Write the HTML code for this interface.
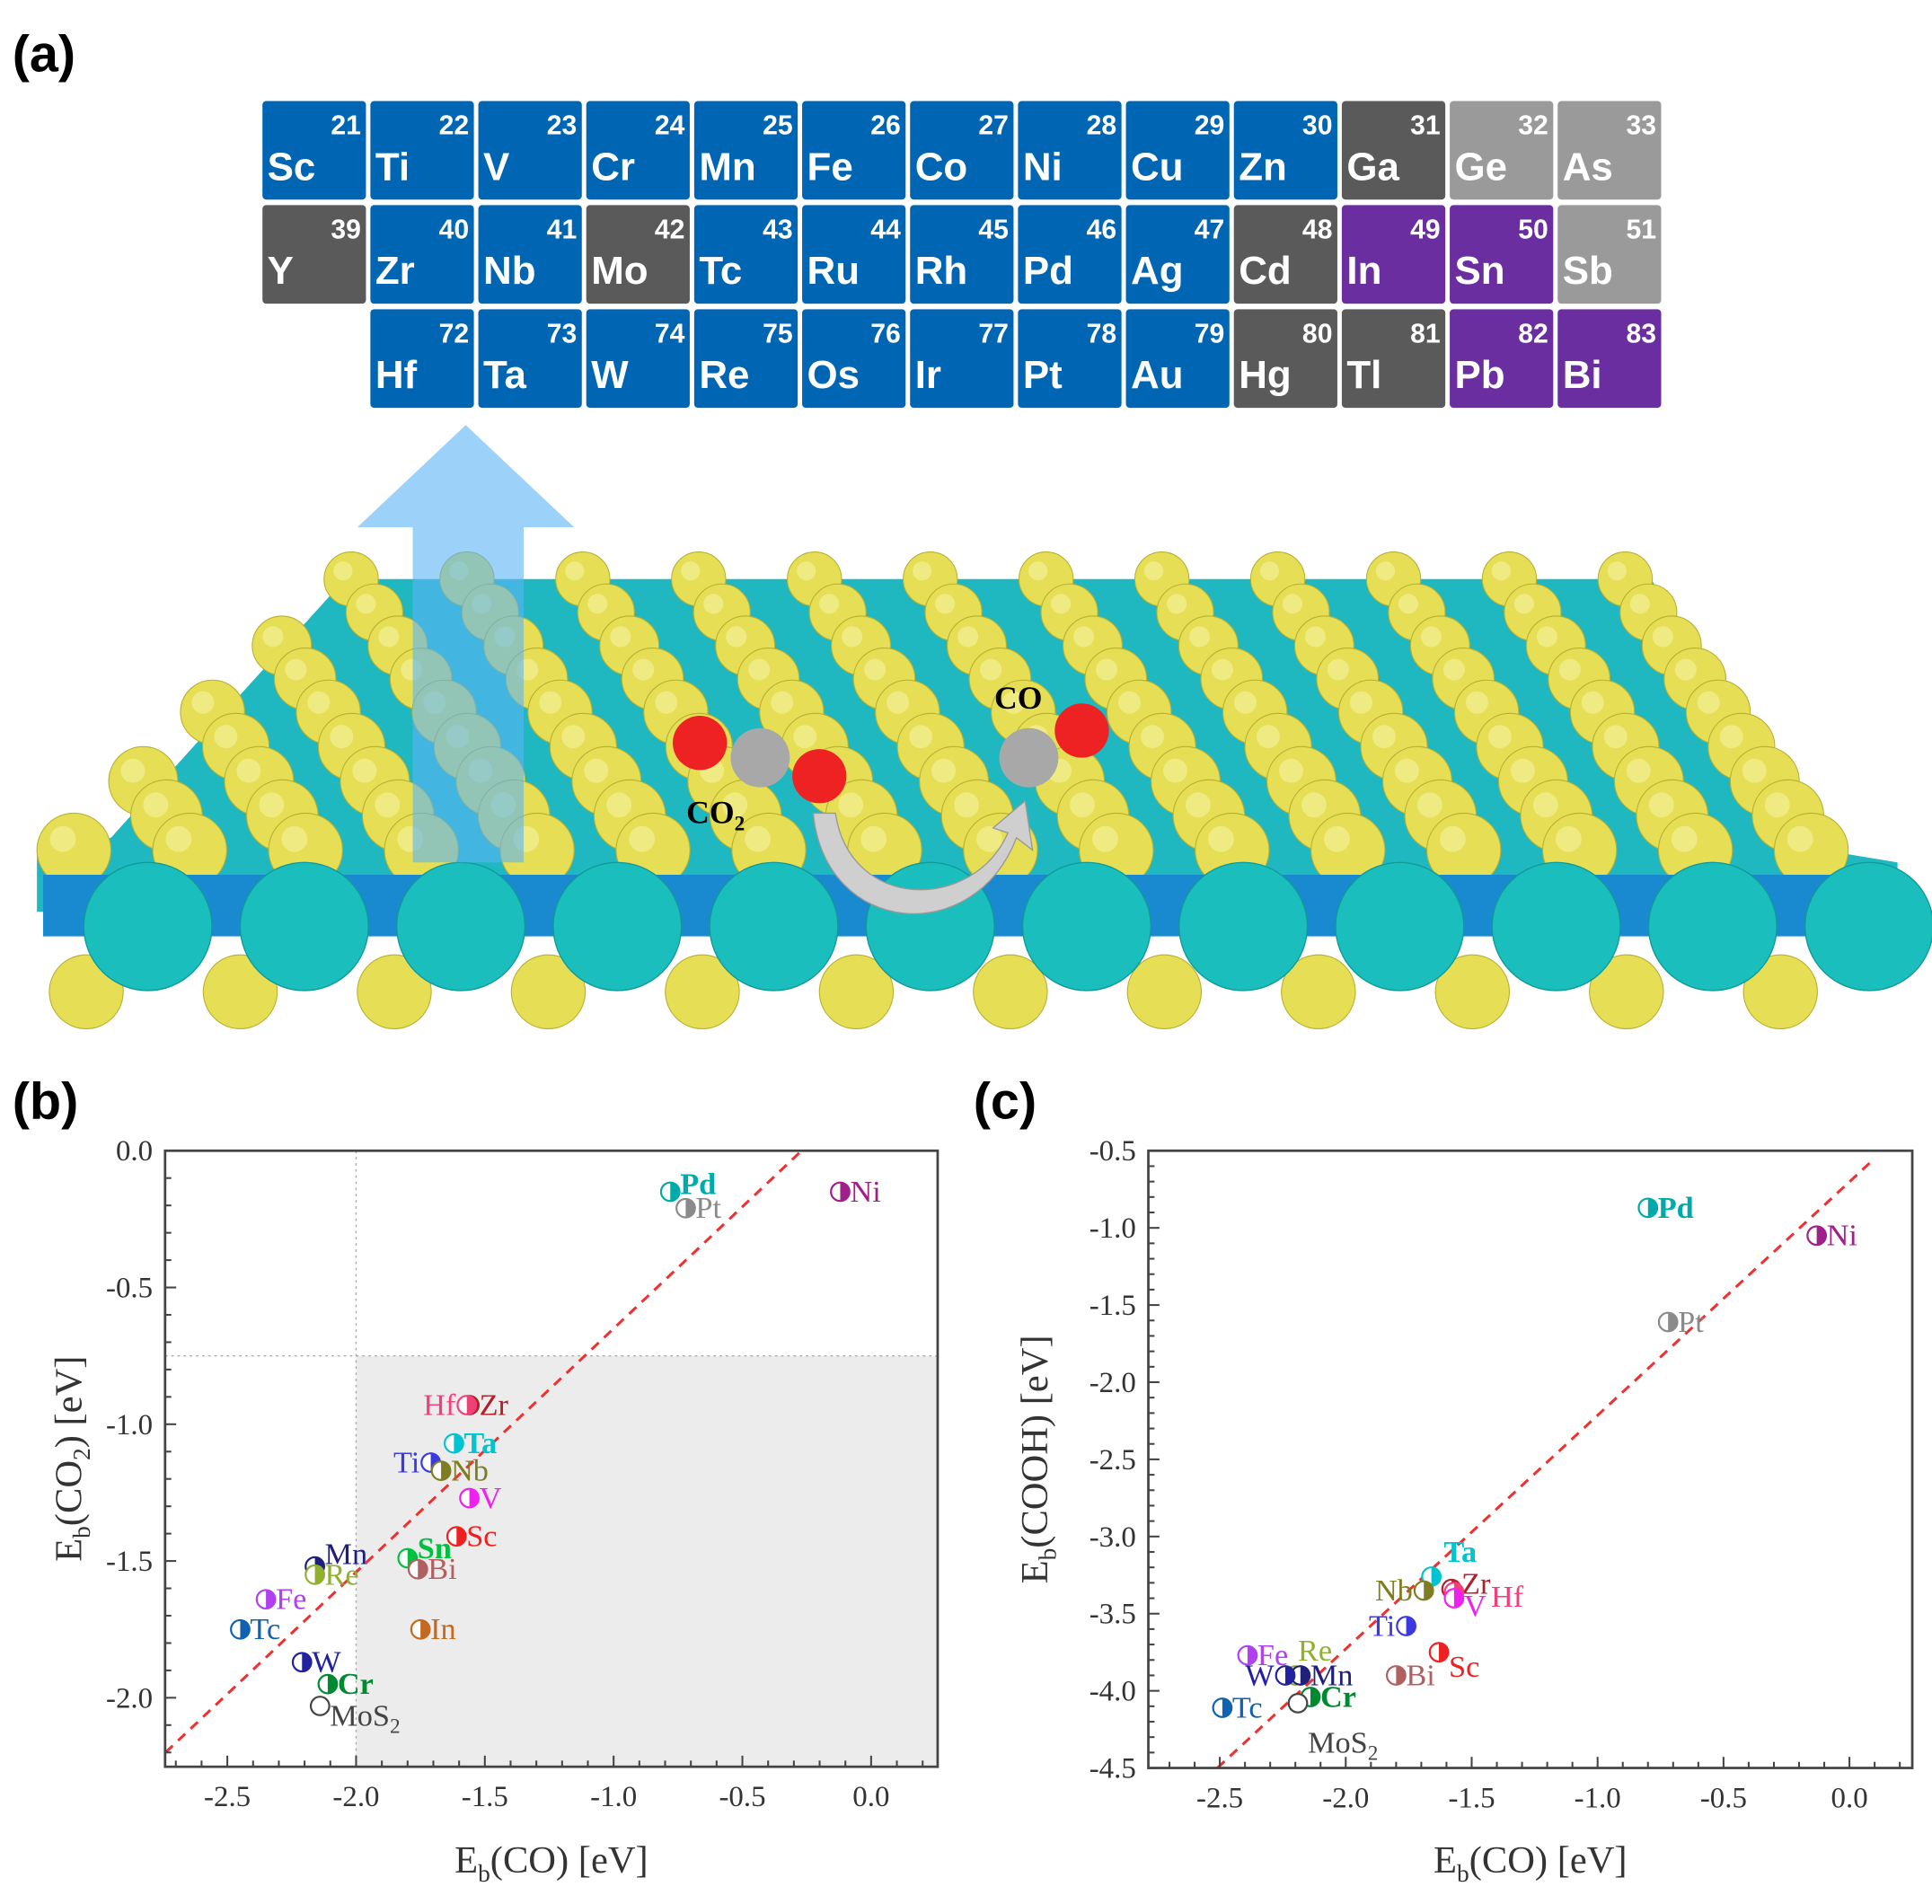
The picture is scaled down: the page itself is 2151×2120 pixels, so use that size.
<!DOCTYPE html>
<html><head><meta charset="utf-8">
<style>
html,body{margin:0;padding:0;background:#fff;}
svg{display:block;}
.pt-sym{font-family:"Liberation Sans",sans-serif;font-weight:bold;fill:#fff;}
.serif{font-family:"Liberation Serif",serif;}
</style></head>
<body>
<svg id="fig" width="2151" height="2120" viewBox="0 0 1568 1545.4" xmlns="http://www.w3.org/2000/svg">
<g id="panelA"></g>
<g id="panelB"></g>
<g id="panelC"></g>
</svg>
<script>
// ---------- chart data ----------
const bNames = ["Pd","Pt","Ni","Zr","Hf","Ta","Ti","Nb","V","Sc","Sn","Bi","In","Mn","Re","Fe","Tc","W","Cr","MoS2"];
const bX = [-0.78,-0.72,-0.12,-1.56,-1.57,-1.62,-1.71,-1.67,-1.56,-1.61,-1.80,-1.76,-1.75,-2.16,-2.16,-2.35,-2.45,-2.21,-2.11,-2.14];
const bY = [-0.15,-0.21,-0.15,-0.93,-0.93,-1.07,-1.14,-1.17,-1.27,-1.41,-1.49,-1.53,-1.75,-1.52,-1.55,-1.64,-1.75,-1.87,-1.95,-2.03];
const cNames = ["Pd","Ni","Pt","Ta","Zr","Hf","V","Nb","Ti","Sc","Bi","Fe","Re","Mn","W","Cr","MoS2","Tc"];
const cX = [-0.80,-0.13,-0.72,-1.66,-1.58,-1.57,-1.57,-1.69,-1.76,-1.63,-1.80,-2.39,-2.20,-2.18,-2.24,-2.14,-2.19,-2.49];
const cY = [-0.87,-1.05,-1.61,-3.26,-3.34,-3.36,-3.40,-3.35,-3.58,-3.75,-3.90,-3.77,-3.90,-3.90,-3.90,-4.04,-4.08,-4.11];
const xTicks = [-2.5,-2.0,-1.5,-1.0,-0.5,0.0];
const bYTicks = [0.0,-0.5,-1.0,-1.5,-2.0];
const cYTicks = [-0.5,-1.0,-1.5,-2.0,-2.5,-3.0,-3.5,-4.0,-4.5];
const elementColors = {Pd:"#00aaaa",Pt:"#8a8a8a",Ni:"#a0208a",Zr:"#b01e28",Hf:"#f0407a",Ta:"#00c4d0",Ti:"#3a3ae0",Nb:"#7e7e20",V:"#f020f0",Sc:"#f02020",Sn:"#00c040",Bi:"#b06060",In:"#c46a20",Mn:"#20207a",Re:"#90b030",Fe:"#b040f0",Tc:"#1062b0",W:"#2222a0",Cr:"#008a30",MoS2:"#444"};
// label placement (layout only)
const bLab = {Hf:[-9,8,"end"],Ti:[-9,8,"end"],Pd:[8,2,"start"],Mn:[8,-2,"start"],Sn:[8,0,"start"],MoS2:[8,16,"start"],Zr:[8,8,"start"]};
const cLab = {Ta:[10,-12,"start"],Zr:[8,4,"start"],Hf:[30,12,"start"],V:[8,14,"start"],Nb:[-9,8,"end"],Ti:[-9,8,"end"],Sc:[8,20,"start"],Re:[2,-12,"start"],W:[-9,8,"end"],MoS2:[8,40,"start"],Mn:[8,8,"start"]};

const NS="http://www.w3.org/2000/svg";
function mk(tag,attrs,parent){const e=document.createElementNS(NS,tag);for(const k in attrs)e.setAttribute(k,attrs[k]);if(parent)parent.appendChild(e);return e;}

// ---------- panel (a) ----------
const A=document.getElementById('panelA');
let t=mk('text',{x:10,y:58,'font-size':42,'font-weight':'bold','font-family':'Liberation Sans, sans-serif'},A);
t.textContent='(a)';


const ptRows=[
 [["Sc",21,"b"],["Ti",22,"b"],["V",23,"b"],["Cr",24,"b"],["Mn",25,"b"],["Fe",26,"b"],["Co",27,"b"],["Ni",28,"b"],["Cu",29,"b"],["Zn",30,"b"],["Ga",31,"d"],["Ge",32,"l"],["As",33,"l"]],
 [["Y",39,"d"],["Zr",40,"b"],["Nb",41,"b"],["Mo",42,"d"],["Tc",43,"b"],["Ru",44,"b"],["Rh",45,"b"],["Pd",46,"b"],["Ag",47,"b"],["Cd",48,"d"],["In",49,"p"],["Sn",50,"p"],["Sb",51,"l"]],
 [null,["Hf",72,"b"],["Ta",73,"b"],["W",74,"b"],["Re",75,"b"],["Os",76,"b"],["Ir",77,"b"],["Pt",78,"b"],["Au",79,"b"],["Hg",80,"d"],["Tl",81,"d"],["Pb",82,"p"],["Bi",83,"p"]]];
const cellCol={b:"#0066b3",d:"#5a5a5a",l:"#9a9a9a",p:"#6a2ea0"};
ptRows.forEach((row,ri)=>row.forEach((c,ci)=>{
  if(!c)return;
  const x=213+ci*87.6,y=82+ri*84.5;
  const g=mk('g',{},A);
  
  
  mk('rect',{x:x,y:y,width:84,height:80,rx:3,fill:cellCol[c[2]]},g);
  const n=mk('text',{x:x+80,y:y+27,'text-anchor':'end','font-size':22,class:'pt-sym'},g);n.textContent=c[1];
  const s=mk('text',{x:x+4,y:y+64,'font-size':32,class:'pt-sym'},g);s.textContent=c[0];
}));
// slab
const slab=mk('g',{},A);


mk('polygon',{points:"280,470 1340,470 1480,690 1540,700 1540,740 30,740 30,690 90,680",fill:"#1fb8c0"},slab);
const rowsY=[470,497,524,551,578,606,634,662,690];
rowsY.forEach((y,i)=>{
  const f=i/(rowsY.length-1);
  const x0=285-225*f+(i%2?47:0), x1=1330+150*f, r=22+8*f;
  for(let x=x0;x<=x1;x+=94){
    mk('circle',{cx:x,cy:y,r:r,fill:"#e6df55",stroke:"#b8b030","stroke-width":0.8},slab);
    mk('circle',{cx:x-r*0.3,cy:y-r*0.3,r:r*0.35,fill:"#f6f2a0",opacity:0.6},slab);
  }
});
mk('rect',{x:35,y:710,width:1505,height:50,fill:"#1a8ad0"},slab);
for(let x=70;x<1530;x+=125){mk('circle',{cx:x,cy:805,r:30,fill:"#e6df55",stroke:"#b8b030","stroke-width":0.8},slab);}
for(let x=120;x<1560;x+=127){mk('circle',{cx:x,cy:752,r:52,fill:"#1abfbd",stroke:"#109a98","stroke-width":1},slab);}
// molecules
const mol=mk('g',{},A);


mk('circle',{cx:568,cy:603,r:22,fill:"#ee2222"},mol);
mk('circle',{cx:617,cy:615,r:24,fill:"#a8a8a8"},mol);
mk('circle',{cx:665,cy:630,r:22,fill:"#ee2222"},mol);
mk('circle',{cx:835,cy:615,r:24,fill:"#a8a8a8"},mol);
mk('circle',{cx:878,cy:593,r:22,fill:"#ee2222"},mol);
mk('path',{d:"M660,660 C670,760 790,770 825,680 L838,690 L832,650 L806,672 L818,676 C790,740 690,740 678,660 Z",fill:"#cfcfcf",stroke:"#999","stroke-width":1},mol);
t=mk('text',{x:557,y:668,'font-size':26,'font-weight':'bold',class:'serif'},mol);
t.innerHTML='CO<tspan font-size="17" dy="6">2</tspan>';


t=mk('text',{x:807,y:575,'font-size':26,'font-weight':'bold',class:'serif'},mol);
t.textContent='CO';


// blue arrow
const arr=mk('polygon',{points:"290,428 378,345 466,428 425,428 425,700 335,700 335,428",fill:"#5ab4f5",opacity:0.6},A);



// ---------- scatter panels ----------
function panel(G,o){
  const sx=v=>o.x0+v*o.kx, sy=v=>o.y0-(v-o.yref)*o.ky;
  let l=mk('text',{x:o.lx,y:908,'font-size':42,'font-weight':'bold','font-family':'Liberation Sans, sans-serif'},G);
  l.textContent=o.label;
  
  
  if(o.shade){
    const s=mk('rect',{x:sx(-2.0),y:sy(-0.75),width:o.R-sx(-2.0),height:o.B-sy(-0.75),fill:"#ececec"},G);
    
    
    mk('line',{x1:sx(-2.0),y1:o.T,x2:sx(-2.0),y2:o.B,stroke:"#aaa","stroke-dasharray":"2,3","stroke-width":1},G);
    mk('line',{x1:o.L,y1:sy(-0.75),x2:o.R,y2:sy(-0.75),stroke:"#aaa","stroke-dasharray":"2,3","stroke-width":1},G);
  }
  const fit=mk('line',{x1:sx(o.f[0]),y1:sy(o.f[1]),x2:sx(o.f[2]),y2:sy(o.f[3]),stroke:"#f03030","stroke-width":2.2,"stroke-dasharray":"8,6"},G);
  
  
  const ax=mk('rect',{x:o.L,y:o.T,width:o.R-o.L,height:o.B-o.T,fill:"none",stroke:"#444","stroke-width":2},G);
  
  
  for(let v=Math.ceil(o.xmin*10);v<=Math.floor(o.xmax*10);v++){
    const X=sx(v/10),len=(v%5===0)?9:5;
    mk('line',{x1:X,y1:o.B,x2:X,y2:o.B-len,stroke:"#444","stroke-width":1.5},G);
  }
  for(let v=Math.ceil(o.ymin*10);v<=Math.floor(o.ymax*10);v++){
    const Y=sy(v/10),len=(v%5===0)?9:5;
    mk('line',{x1:o.L,y1:Y,x2:o.L+len,y2:Y,stroke:"#444","stroke-width":1.5},G);
  }
  xTicks.forEach(v=>{const tt=mk('text',{x:sx(v),y:o.B+32,'text-anchor':'middle','font-size':24,fill:'#333',class:'serif'},G);tt.textContent=v.toFixed(1);
    
    });
  o.yt.forEach(v=>{const tt=mk('text',{x:o.L-10,y:sy(v)+8,'text-anchor':'end','font-size':24,fill:'#333',class:'serif'},G);tt.textContent=v.toFixed(1);
    
    });
  const xt=mk('text',{x:(o.L+o.R)/2,y:1520,'text-anchor':'middle','font-size':31,fill:'#333',class:'serif'},G);
  xt.innerHTML='E<tspan font-size="20" dy="7">b</tspan><tspan dy="-7">(CO) [eV]</tspan>';
  
  
  const yt=mk('text',{x:0,y:0,'text-anchor':'middle','font-size':31,fill:'#333',class:'serif',transform:`translate(${o.ytx},${(o.T+o.B)/2}) rotate(-90)`},G);
  yt.innerHTML='E<tspan font-size="20" dy="7">b</tspan><tspan dy="-7">('+o.yq+') [eV]</tspan>';
  if(o.yq==='CO2')yt.innerHTML='E<tspan font-size="20" dy="7">b</tspan><tspan dy="-7">(CO</tspan><tspan font-size="20" dy="7">2</tspan><tspan dy="-7">) [eV]</tspan>';
  
  
  o.names.forEach((n,i)=>{
    const col=elementColors[n],X=sx(o.xs[i]),Y=sy(o.ys[i]);
    const g=mk('g',{},G);
    
    
    mk('circle',{cx:X,cy:Y,r:7.5,fill:'#fff',stroke:col,'stroke-width':1.6},g);
    if(n!=='MoS2')mk('path',{d:`M${X},${Y-7.5} A7.5,7.5 0 0 1 ${X},${Y+7.5} Z`,fill:col},g);
    const lp=o.lab[n]||[8,8,"start"];
    const tx=mk('text',{x:X+lp[0],y:Y+lp[1],'text-anchor':lp[2],'font-size':25,fill:col,class:'serif','font-weight':(n==='Pd'||n==='Sn'||n==='Ta'||n==='Cr')?'bold':'normal'},g);
    if(n==='MoS2')tx.innerHTML='MoS<tspan font-size="17" dy="6">2</tspan>';else tx.textContent=n;
  });
}
panel(document.getElementById('panelB'),{id:'panel-b',label:'(b)',lx:10,L:134,R:761,T:934,B:1434,x0:707,kx:209,y0:934,yref:0,ky:222,
  xmin:-2.74,xmax:0.26,ymin:-2.25,ymax:0,shade:true,f:[-2.74,-2.2,-0.27,0],yt:bYTicks,ytx:66,yq:'CO2',
  names:bNames,xs:bX,ys:bY,lab:bLab});
panel(document.getElementById('panelC'),{id:'panel-c',label:'(c)',lx:790,L:932,R:1552,T:934,B:1435,x0:1501,kx:204.4,y0:934,yref:-0.5,ky:125.25,
  xmin:-2.78,xmax:0.25,ymin:-4.5,ymax:-0.5,shade:false,f:[-2.51,-4.5,0.1,-0.55],yt:cYTicks,ytx:850,yq:'COOH',
  names:cNames,xs:cX,ys:cY,lab:cLab});
</script>
</body></html>
